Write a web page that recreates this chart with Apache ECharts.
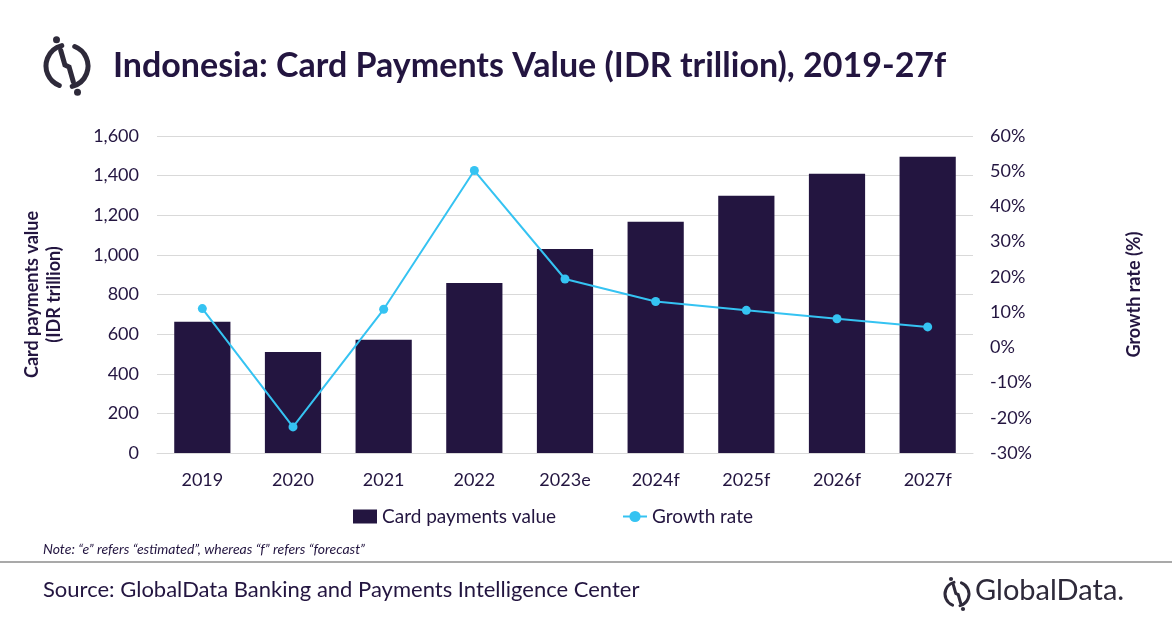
<!DOCTYPE html>
<html>
<head>
<meta charset="utf-8">
<script src="https://cdn.jsdelivr.net/npm/echarts@6/dist/echarts.min.js"></script>
<style>
  html, body { margin: 0; padding: 0; background: #fff; }
  #chart { width: 1172px; height: 628px; }
</style>
</head>
<body>
<div id="chart"></div>
<script>
// data
const years = ['2019', '2020', '2021', '2022', '2023e', '2024f', '2025f', '2026f', '2027f'];
const cardValue = [663, 510, 571, 858, 1030, 1167, 1298, 1409, 1495];
const growthRate = [11.0, -22.6, 10.8, 50.2, 19.4, 13.0, 10.5, 8.1, 5.8];

const dark = '#231540';
const cyan = '#35c3f2';
const font = 'Lato';

// small logo: broken ring with a slash and two dots
function logo(cx, cy, r, w, color) {
  return {
    type: 'group',
    children: [
      { type: 'arc', shape: { cx: cx, cy: cy, r: r, startAngle: Math.PI * 0.62, endAngle: Math.PI * 1.42 },
        style: { stroke: color, lineWidth: w, fill: null, lineCap: 'round' } },
      { type: 'arc', shape: { cx: cx, cy: cy, r: r, startAngle: Math.PI * 1.62, endAngle: Math.PI * 2.42 },
        style: { stroke: color, lineWidth: w, fill: null, lineCap: 'round' } },
      { type: 'polyline', shape: { points: [[cx - r * 0.3, cy - r * 0.75], [cx - r * 0.1, cy - r * 0.05], [cx + r * 0.1, cy + r * 0.05], [cx + r * 0.3, cy + r * 0.75]] },
        style: { stroke: color, lineWidth: w, fill: null, lineCap: 'round' } },
      { type: 'circle', shape: { cx: cx - r * 0.5, cy: cy - r * 1.25, r: w * 0.7 }, style: { fill: color } },
      { type: 'circle', shape: { cx: cx + r * 0.5, cy: cy + r * 1.25, r: w * 0.7 }, style: { fill: color } }
    ]
  };
}

const chart = echarts.init(document.getElementById('chart'));
chart.setOption({
  backgroundColor: '#fff',
  textStyle: { fontFamily: font },
  title: {
    text: 'Indonesia: Card Payments Value (IDR trillion), 2019-27f',
    left: 108, top: 44,
    textStyle: { fontFamily: font, fontWeight: 'bold', fontSize: 34, color: dark }
  },
  grid: { left: 157, right: 199, top: 136, bottom: 175 },
  legend: {
    left: 348, top: 502,
    itemGap: 66, itemWidth: 24, itemHeight: 14,
    textStyle: { fontFamily: font, fontSize: 19, color: dark },
    data: [
      { name: 'Card payments value', icon: 'rect' },
      { name: 'Growth rate' }
    ]
  },
  xAxis: {
    type: 'category',
    data: years,
    axisLine: { lineStyle: { color: '#d9d9d9' } },
    axisTick: { show: false },
    axisLabel: { color: dark, fontSize: 18, margin: 18, fontFamily: font }
  },
  yAxis: [
    {
      type: 'value', min: 0, max: 1600, interval: 200,
      name: 'Card payments value\n(IDR trillion)',
      nameLocation: 'middle', nameGap: 92, nameRotate: 90,
      nameTextStyle: { fontFamily: font, fontWeight: 'bold', fontSize: 18, color: dark, lineHeight: 22 },
      axisLabel: {
        color: dark, fontSize: 18, margin: 18, fontFamily: font,
        formatter: v => v.toLocaleString('en-US')
      },
      splitLine: { lineStyle: { color: '#d9d9d9' } }
    },
    {
      type: 'value', min: -30, max: 60, interval: 10,
      name: 'Growth rate (%)',
      nameLocation: 'middle', nameGap: 152, nameRotate: 90,
      nameTextStyle: { fontFamily: font, fontWeight: 'bold', fontSize: 18, color: dark },
      axisLabel: { color: dark, fontSize: 18, margin: 17, fontFamily: font, formatter: '{value}%' },
      splitLine: { show: false }
    }
  ],
  series: [
    {
      name: 'Card payments value',
      type: 'bar',
      data: cardValue,
      barWidth: '62%',
      itemStyle: { color: dark }
    },
    {
      name: 'Growth rate',
      type: 'line',
      yAxisIndex: 1,
      data: growthRate,
      symbol: 'circle', symbolSize: 9,
      lineStyle: { color: cyan, width: 2 },
      itemStyle: { color: cyan }
    }
  ],
  graphic: [
    logo(67, 66, 21, 5, '#2e2a3a'),
    {
      type: 'text', left: 43, top: 542,
      style: { text: 'Note: \u201ce\u201d refers \u201cestimated\u201d, whereas \u201cf\u201d refers \u201cforecast\u201d',
        fontFamily: font, fontStyle: 'italic', fontSize: 14, fill: dark }
    },
    {
      type: 'line', shape: { x1: 0, y1: 562, x2: 1172, y2: 562 },
      style: { stroke: '#8c8c8c', lineWidth: 1.5 }
    },
    {
      type: 'text', left: 43, top: 579,
      style: { text: 'Source: GlobalData Banking and Payments Intelligence Center',
        fontFamily: font, fontSize: 22, fill: dark }
    },
    logo(957, 594, 12, 3, '#2e2a3a'),
    {
      type: 'text', left: 975, top: 576,
      style: { text: 'GlobalData.', fontFamily: font, fontSize: 29, fill: '#2e2a3a' }
    }
  ]
});
</script>
</body>
</html>
